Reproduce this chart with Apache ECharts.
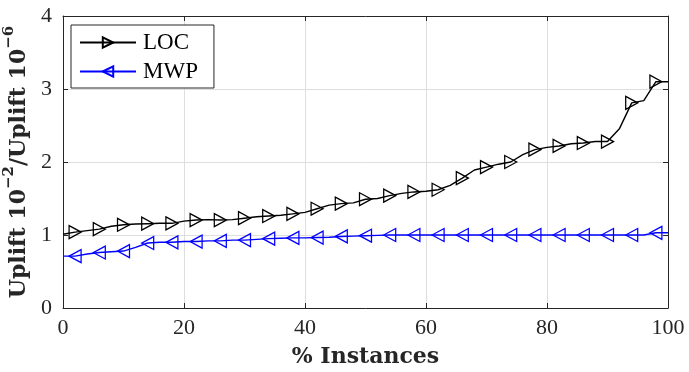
<!DOCTYPE html>
<html>
<head>
<meta charset="utf-8">
<script src="https://cdn.jsdelivr.net/npm/echarts@6/dist/echarts.min.js"></script>
<style>
  html, body { margin: 0; padding: 0; background: #fff; }
  #chart { width: 689px; height: 372px; }
</style>
</head>
<body>
<div id="chart"></div>
<script>
const xPct = [0, 2, 4, 6, 8, 10, 12, 14, 16, 18, 20, 22, 24, 26, 28, 30, 32, 34, 36, 38, 40,
  42, 44, 46, 48, 50, 52, 54, 56, 58, 60, 62, 64, 66, 68, 70, 72, 74, 76, 78, 80,
  82, 84, 86, 88, 90, 92, 94, 96, 98, 100];

const loc = [1.01, 1.04, 1.06, 1.08, 1.12, 1.14, 1.15, 1.155, 1.16, 1.16, 1.19,
  1.205, 1.21, 1.205, 1.21, 1.23, 1.25, 1.26, 1.27, 1.29, 1.31,
  1.36, 1.41, 1.43, 1.44, 1.49, 1.50, 1.54, 1.57, 1.59, 1.60,
  1.62, 1.68, 1.78, 1.89, 1.93, 1.97, 2.00, 2.10, 2.17, 2.20,
  2.22, 2.25, 2.26, 2.28, 2.28, 2.46, 2.81, 2.84, 3.10, 3.10];

const mwp = [0.71, 0.71, 0.74, 0.76, 0.77, 0.78, 0.83, 0.89, 0.90, 0.90, 0.91,
  0.91, 0.92, 0.92, 0.93, 0.93, 0.94, 0.95, 0.955, 0.96, 0.96,
  0.965, 0.97, 0.98, 0.985, 0.99, 0.995, 1.0, 1.0, 1.0, 1.0,
  1.0, 1.0, 1.0, 1.0, 1.0, 1.0, 1.0, 1.0, 1.0, 1.0,
  1.0, 1.0, 1.0, 1.0, 1.0, 1.0, 1.0, 1.0, 1.03, 1.03];

const xTicks = [0, 20, 40, 60, 80, 100];
const yTicks = [0, 1, 2, 3, 4];

const serif = '"Liberation Serif", "DejaVu Serif", serif';
const boldSerif = '"DejaVu Serif", serif';
const axisColor = '#262626';

// markers only on every other sample, like the MATLAB MarkerIndices
function withMarkers(ys) {
  return xPct.map((x, i) => ({
    value: [x, ys[i]],
    symbol: i % 2 === 1 ? 'triangle' : 'none'
  }));
}

const chart = echarts.init(document.getElementById('chart'), null, { renderer: 'canvas' });

// top / right axes just close the box and carry the inward ticks
const boxAxis = {
  axisLine: { show: true, onZero: false, lineStyle: { color: axisColor, width: 1 } },
  axisTick: { show: true, inside: true, length: 5, lineStyle: { color: axisColor } },
  splitLine: { show: false },
  axisLabel: { show: false }
};

chart.setOption({
  animation: false,
  grid: { left: 63, right: 21, top: 16, bottom: 64, show: false, containLabel: false, outerBoundsMode: 'none' },
  legend: {
    orient: 'vertical',
    left: 71,
    top: 25,
    padding: [6, 16, 5, 8],
    itemGap: 6,
    itemWidth: 56,
    itemHeight: 13,
    backgroundColor: '#fff',
    borderColor: axisColor,
    borderWidth: 1,
    borderRadius: 0,
    textStyle: { fontFamily: serif, fontSize: 23, color: '#000', padding: [0, 0, 0, 2] },
    data: ['LOC', 'MWP']
  },
  xAxis: [
    {
      type: 'value',
      min: 0,
      max: 100,
      interval: 20,
      position: 'bottom',
      name: '% Instances',
      nameLocation: 'middle',
      nameGap: 38,
      nameTextStyle: { fontFamily: boldSerif, fontSize: 22, fontWeight: 'bold', color: '#262626' },
      axisLine: { show: true, onZero: false, lineStyle: { color: axisColor, width: 1 } },
      axisTick: { show: true, inside: true, length: 5, lineStyle: { color: axisColor } },
      axisLabel: {
        fontFamily: serif, fontSize: 22, color: '#262626', margin: 9,
        formatter: (v) => (xTicks.includes(v) ? String(v) : '')
      },
      splitLine: { show: true, lineStyle: { color: '#dedede', width: 1 } }
    },
    Object.assign({ type: 'value', min: 0, max: 100, interval: 20, position: 'top' }, boxAxis)
  ],
  yAxis: [
    {
      type: 'value',
      min: 0,
      max: 4,
      interval: 1,
      position: 'left',
      name: '{b|Uplift 10}{s|−2}{b|/Uplift 10}{s|−6}',
      nameLocation: 'middle',
      nameGap: 27,
      nameTextStyle: {
        rich: {
          b: { fontFamily: boldSerif, fontSize: 22, fontWeight: 'bold', color: '#262626', lineHeight: 28, verticalAlign: 'bottom' },
          s: { fontFamily: boldSerif, fontSize: 15, fontWeight: 'bold', color: '#262626', lineHeight: 28, verticalAlign: 'top' }
        }
      },
      axisLine: { show: true, onZero: false, lineStyle: { color: axisColor, width: 1 } },
      axisTick: { show: true, inside: true, length: 5, lineStyle: { color: axisColor } },
      axisLabel: {
        fontFamily: serif, fontSize: 22, color: '#262626', margin: 11,
        formatter: (v) => (yTicks.includes(v) ? String(v) : '')
      },
      splitLine: { show: true, lineStyle: { color: '#dedede', width: 1 } }
    },
    Object.assign({ type: 'value', min: 0, max: 4, interval: 1, position: 'right' }, boxAxis)
  ],
  series: [
    {
      name: 'LOC',
      type: 'line',
      data: withMarkers(loc),
      symbol: 'triangle',
      symbolRotate: -90,
      symbolSize: [13, 12],
      showAllSymbol: true,
      lineStyle: { color: '#000', width: 1.4 },
      itemStyle: { color: 'rgba(255,255,255,0)', borderColor: '#000', borderWidth: 1.3 },
      emphasis: { disabled: true },
      z: 3
    },
    {
      name: 'MWP',
      type: 'line',
      data: withMarkers(mwp),
      symbol: 'triangle',
      symbolRotate: 90,
      symbolSize: [13, 12],
      showAllSymbol: true,
      lineStyle: { color: '#0000ff', width: 1.4 },
      itemStyle: { color: 'rgba(255,255,255,0)', borderColor: '#0000ff', borderWidth: 1.3 },
      emphasis: { disabled: true },
      z: 2
    }
  ]
});
</script>
</body>
</html>
